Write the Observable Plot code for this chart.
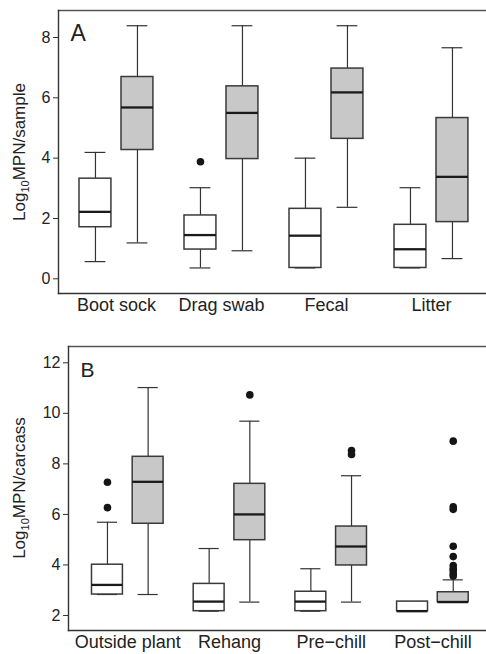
<!DOCTYPE html>
<html>
<head>
<meta charset="utf-8">
<script src="https://cdn.jsdelivr.net/npm/d3@7"></script>
<script src="https://cdn.jsdelivr.net/npm/@observablehq/plot@0.6"></script>
<style>
  html, body { margin: 0; padding: 0; background: #fff; }
  #chart svg { display: block; }
</style>
</head>
<body>
<div id="chart"></div>
<script>
// ---------- Data ----------
// Panel A
const catsA = ["Boot sock", "Drag swab", "Fecal", "Litter"];
const ticksA = [0, 2, 4, 6, 8];
const aWhiteMin = [0.57, 0.36, 0.36, 0.36];
const aWhiteQ1  = [1.71, 0.97, 0.36, 0.36];
const aWhiteMed = [2.22, 1.45, 1.43, 0.98];
const aWhiteQ3  = [3.32, 2.10, 2.32, 1.79];
const aWhiteMax = [4.19, 3.02, 4.00, 3.02];
const aWhiteOut = [[], [3.88], [], []];
const aGrayMin  = [1.19, 0.93, 2.37, 0.67];
const aGrayQ1   = [4.27, 3.97, 4.64, 1.88];
const aGrayMed  = [5.68, 5.50, 6.18, 3.38];
const aGrayQ3   = [6.69, 6.38, 6.97, 5.33];
const aGrayMax  = [8.39, 8.39, 8.39, 7.66];
const aGrayOut  = [[], [], [], []];

// Panel B
const catsB = ["Outside plant", "Rehang", "Pre\u2212chill", "Post\u2212chill"];
const ticksB = [2, 4, 6, 8, 10, 12];
const bWhiteMin = [2.83, 2.17, 2.17, 2.17];
const bWhiteQ1  = [2.83, 2.17, 2.17, 2.17];
const bWhiteMed = [3.21, 2.55, 2.55, 2.17];
const bWhiteQ3  = [4.01, 3.25, 2.94, 2.55];
const bWhiteMax = [5.69, 4.65, 3.85, 2.55];
const bWhiteOut = [[7.27, 6.27], [], [], []];
const bGrayMin  = [2.83, 2.53, 2.53, 2.53];
const bGrayQ1   = [5.63, 4.98, 3.98, 2.53];
const bGrayMed  = [7.29, 6.00, 4.73, 2.53];
const bGrayQ3   = [8.28, 7.21, 5.52, 2.92];
const bGrayMax  = [11.02, 9.69, 7.53, 3.41];
const bGrayOut  = [[], [10.73], [8.53, 8.37], [8.90, 6.30, 6.20, 4.74, 4.33, 3.98, 3.85, 3.78, 3.65, 3.56]];

const seriesNames = ["white", "gray"];
const fills = {white: "#ffffff", gray: "#c8c8c8"};

// ---------- Helpers ----------
function buildRows(cats, series) {
  const boxes = [], outs = [];
  series.forEach((s, si) => {
    cats.forEach((c, ci) => {
      const pos = ci + 1 + si * 0.4;
      boxes.push({cat: c, series: s.name, pos, min: s.min[ci], q1: s.q1[ci], med: s.med[ci], q3: s.q3[ci], max: s.max[ci]});
      s.out[ci].forEach(v => outs.push({cat: c, series: s.name, pos, v}));
    });
  });
  return {boxes, outs};
}

const FONT = "'Liberation Sans', Arial, Helvetica, sans-serif";

function panel({cats, series, ticks, yDomain, xDomain, height, marginLeft, marginTop, marginBottom, letter, letterSize, letterDy, ylab, ylabY}) {
  const {boxes, outs} = buildRows(cats, series);
  const centers = cats.map((c, i) => i + 1.2);
  const hw = 0.152, cw = 0.099;
  const svg = Plot.plot({
    width: 486, height,
    marginLeft, marginRight: 0, marginTop, marginBottom,
    x: {domain: xDomain, axis: null},
    y: {domain: yDomain, axis: null},
    style: {fontFamily: FONT, background: "#fff", color: "#222"},
    marks: [
      Plot.frame({anchor: "top", stroke: "#555", strokeWidth: 1.4}),
      Plot.frame({anchor: "bottom", stroke: "#333", strokeWidth: 1.4}),
      Plot.frame({anchor: "left", stroke: "#333", strokeWidth: 1.4}),
      Plot.axisY({ticks, tickSize: 5, tickPadding: 3, fontSize: 16, label: null, stroke: "#333", fill: "#222"}),
      Plot.axisX(centers, {tickSize: 0, tickPadding: 5, fontSize: 18, label: null, fill: "#222",
        tickFormat: d => cats[Math.round(d - 1.2)]}),
      // whiskers
      Plot.ruleX(boxes, {x: "pos", y1: "q3", y2: "max", stroke: "#333", strokeWidth: 1.2}),
      Plot.ruleX(boxes, {x: "pos", y1: "min", y2: "q1", stroke: "#333", strokeWidth: 1.2}),
      Plot.ruleY(boxes, {y: "max", x1: d => d.pos - cw, x2: d => d.pos + cw, stroke: "#333", strokeWidth: 1.2}),
      Plot.ruleY(boxes, {y: "min", x1: d => d.pos - cw, x2: d => d.pos + cw, stroke: "#333", strokeWidth: 1.2}),
      // boxes
      Plot.rect(boxes, {x1: d => d.pos - hw, x2: d => d.pos + hw, y1: "q1", y2: "q3",
        fill: d => fills[d.series], stroke: "#3a3a3a", strokeWidth: 1.5}),
      // medians
      Plot.ruleY(boxes, {y: "med", x1: d => d.pos - hw, x2: d => d.pos + hw, stroke: "#1a1a1a", strokeWidth: 2.3}),
      // outliers
      Plot.dot(outs, {x: "pos", y: "v", r: 3.8, fill: "#151515", stroke: "none"}),
      // panel letter
      Plot.text([letter], {frameAnchor: "top-left", dx: 12, dy: letterDy, fontSize: letterSize, fill: "#222", lineAnchor: "top", textAnchor: "start"})
    ]
  });
  // y-axis title with subscript
  const s = d3.select(svg);
  const t = s.append("text")
    .attr("transform", `translate(25,${ylabY}) rotate(-90)`)
    .attr("text-anchor", "middle")
    .attr("font-family", FONT)
    .attr("font-size", 17)
    .attr("fill", "#222");
  t.append("tspan").text("Log");
  t.append("tspan").attr("font-size", 11).attr("dy", 4).text("10");
  t.append("tspan").attr("dy", -4).text(ylab);
  return svg;
}

const chart = document.getElementById("chart");

chart.appendChild(panel({
  cats: catsA,
  series: [
    {name: seriesNames[0], min: aWhiteMin, q1: aWhiteQ1, med: aWhiteMed, q3: aWhiteQ3, max: aWhiteMax, out: aWhiteOut},
    {name: seriesNames[1], min: aGrayMin, q1: aGrayQ1, med: aGrayMed, q3: aGrayQ3, max: aGrayMax, out: aGrayOut}
  ],
  ticks: ticksA,
  yDomain: [-0.487, 8.895],
  xDomain: [0.648, 0.648 + 428 / 105],
  height: 330, marginLeft: 58, marginTop: 10, marginBottom: 37,
  letter: "A", letterSize: 23, letterDy: 14,
  ylab: "MPN/sample", ylabY: 152
}));

chart.appendChild(panel({
  cats: catsB,
  series: [
    {name: seriesNames[0], min: bWhiteMin, q1: bWhiteQ1, med: bWhiteMed, q3: bWhiteQ3, max: bWhiteMax, out: bWhiteOut},
    {name: seriesNames[1], min: bGrayMin, q1: bGrayQ1, med: bGrayMed, q3: bGrayQ3, max: bGrayMax, out: bGrayOut}
  ],
  ticks: ticksB,
  yDomain: [1.406, 12.645],
  xDomain: [0.617, 0.617 + 418 / 101.7],
  height: 324, marginLeft: 68, marginTop: 16, marginBottom: 24,
  letter: "B", letterSize: 21, letterDy: 16,
  ylab: "MPN/carcass", ylabY: 158
}));
</script>
</body>
</html>
